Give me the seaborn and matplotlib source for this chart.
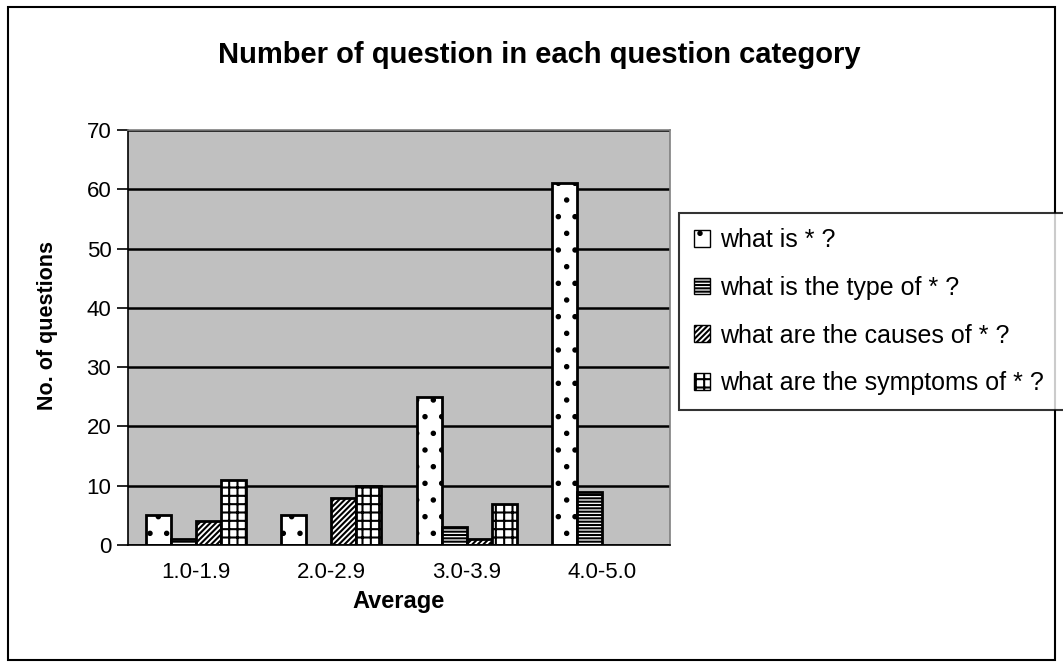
import numpy as np
import pandas as pd
import matplotlib
matplotlib.use("Agg")
import matplotlib.pyplot as plt
import matplotlib.patches as mpatches
import seaborn as sns

# data
ranges = ["1.0-1.9", "2.0-2.9", "3.0-3.9", "4.0-5.0"]
what_is = [5, 5, 25, 61]
type_of = [1, 0, 3, 9]
causes_of = [4, 8, 1, 0]
symptoms_of = [11, 10, 7, 0]
series_names = ["what is * ?", "what is the type of * ?",
                "what are the causes of * ?", "what are the symptoms of * ?"]
hatches = [".", "-----", "//////", "++"]

df = pd.DataFrame({
    "Average": ranges * 4,
    "Count": what_is + type_of + causes_of + symptoms_of,
    "Category": np.repeat(series_names, len(ranges)),
})

sns.set_style("white")
plt.rcParams["font.family"] = ["Liberation Sans", "DejaVu Sans"]
plt.rcParams["hatch.linewidth"] = 1.5
plt.rcParams["text.color"] = "black"
plt.rcParams["axes.labelcolor"] = "black"
plt.rcParams["xtick.color"] = "black"
plt.rcParams["ytick.color"] = "black"

fig = plt.figure(figsize=(10.63, 6.67), dpi=100)
ax = fig.add_axes([128 / 1063, 1 - 545 / 667, 542 / 1063, 415 / 667])
ax.set_facecolor("#C0C0C0")

sns.barplot(data=df, x="Average", y="Count", hue="Category", hue_order=series_names,
            order=ranges, palette=["white"] * 4, edgecolor="black", linewidth=2,
            width=0.74, gap=0, ax=ax, legend=False)

# patches come out hue by hue
for i, bar in enumerate(ax.patches[:16]):
    bar.set_hatch(hatches[i // 4])
    bar.set_facecolor("white")
    if bar.get_height() == 0:
        bar.set_linewidth(0)
        bar.set_hatch("")

ax.set_ylim(0, 70)
ax.set_xlim(-0.5, 3.5)
ax.set_yticks(range(0, 71, 10))
ax.yaxis.grid(True, color="black", linewidth=1.8)
ax.set_axisbelow(True)
for s in ["top", "right"]:
    ax.spines[s].set_color("#808080")
    ax.spines[s].set_linewidth(1.2)
for s in ["left", "bottom"]:
    ax.spines[s].set_color("black")
    ax.spines[s].set_linewidth(1.2)

ax.set_xticks(range(4))
ax.set_xticklabels(ranges)
ax.set_xticks(np.arange(-0.5, 4, 1), minor=True)
ax.tick_params(axis="x", which="major", length=0, pad=12, labelsize=16)
ax.tick_params(axis="x", which="minor", length=8, width=1.2, color="black", direction="out")
ax.tick_params(axis="y", length=8, width=1.2, color="black", direction="out",
               labelsize=16, left=True, pad=4)

ax.set_xlabel("Average", fontsize=17, fontweight="bold", labelpad=5)
ax.set_ylabel("No. of questions", fontsize=15.5, fontweight="bold")
ax.yaxis.set_label_coords(-0.13, 0.53)
fig.text(0.5 + 8 / 1063, 1 - 55 / 667, "Number of question in each question category",
         ha="center", va="center", fontsize=21, fontweight="bold")

handles = [mpatches.Patch(facecolor="white", edgecolor="black", hatch=h, label=n)
           for h, n in zip(hatches, series_names)]
leg = fig.legend(handles=handles, loc="upper left",
                 bbox_to_anchor=(679 / 1063, 1 - 213 / 667, 390 / 1063, 0),
                 mode="expand", fontsize=18,
                 frameon=True, fancybox=False, edgecolor="black",
                 handlelength=0.65, handleheight=0.65, handletextpad=0.4,
                 labelspacing=0.95, borderpad=0.6, borderaxespad=0)
leg.get_frame().set_linewidth(1.5)

fig.patches.append(mpatches.Rectangle((8 / 1063, 7 / 667), 1047 / 1063, 653 / 667,
                                      transform=fig.transFigure, fill=False,
                                      edgecolor="black", linewidth=1.5))

fig.savefig("out.png", dpi=100)
